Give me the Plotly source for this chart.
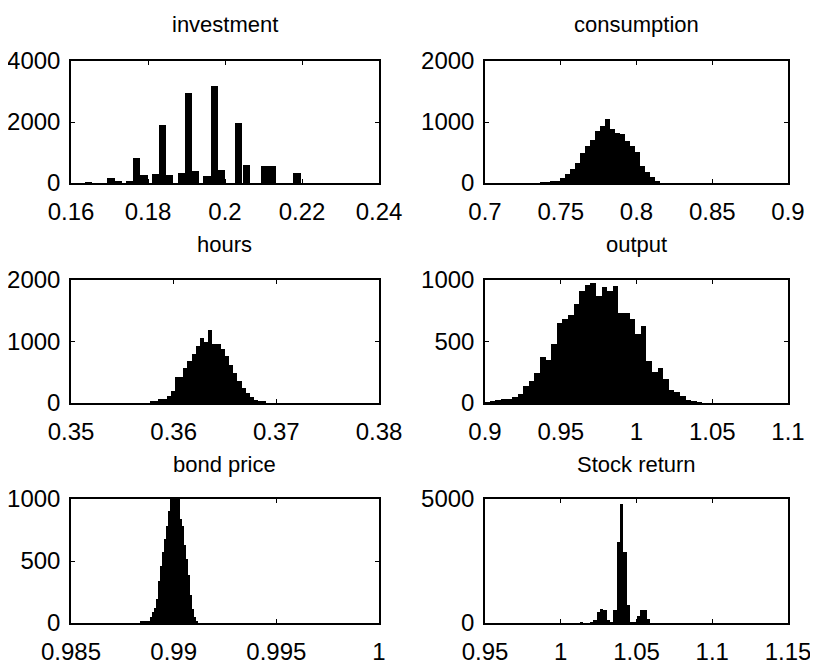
import numpy as np
import plotly.graph_objects as go

# ---------------- data ----------------
titles = ["investment", "consumption", "hours", "output", "bond price", "Stock return"]

# investment: discrete bars (centers, counts)
inv_centers = [0.1645, 0.1704, 0.1723, 0.1753, 0.1771, 0.1790, 0.1820, 0.1838, 0.1856,
               0.1887, 0.1905, 0.1924, 0.1953, 0.1972, 0.1991, 0.2035, 0.2055, 0.2104,
               0.2123, 0.2187]
inv_counts = [25, 160, 60, 80, 830, 270, 300, 1900, 250, 330, 2935, 380, 240, 3170, 435,
              1980, 576, 565, 565, 330]
inv_width = 0.0019

# consumption histogram
cons_start, cons_width = 0.7365, 0.0033
cons_counts = [16, 16, 20, 40, 80, 140, 230, 320, 500, 610, 700, 860, 940, 1050, 880, 814,
               800, 694, 612, 503, 284, 175, 93, 38]

# hours histogram
hours_start, hours_width = 0.3577, 0.000405
hours_counts = [27, 27, 65, 65, 119, 190, 423, 423, 569, 678, 800, 927, 1057, 990, 1180,
                960, 960, 878, 759, 623, 488, 352, 244, 163, 98, 54, 22, 22]

# output histogram
out_start, out_width = 0.8993, 0.003696
out_counts = [5, 14, 27, 35, 35, 49, 76, 136, 177, 240, 372, 353, 476, 652, 679, 715, 802,
              910, 956, 978, 870, 945, 910, 951, 734, 734, 685, 557, 625, 340, 250, 285,
              196, 109, 87, 60, 27, 11, 5]

# bond price histogram
bond_start, bond_width = 0.98836, 0.0000974
bond_counts = [10, 12, 13, 15, 20, 45, 85, 125, 190, 335, 460, 570, 680, 780, 900, 1020,
               1040, 1040, 1030, 1010, 840, 780, 630, 520, 390, 228, 110, 50, 20]

# stock return histogram
stock_start, stock_width = 1.01271, 0.0022
stock_counts = [30, 0, 0, 20, 108, 450, 553, 530, 108, 40, 512, 3275, 4800, 2870, 714, 40,
                40, 300, 512, 512, 175]

# axes
x_ranges = [[0.16, 0.24], [0.7, 0.9], [0.35, 0.38], [0.9, 1.1], [0.985, 1.0], [0.95, 1.15]]
x_tickvals = [[0.16, 0.18, 0.2, 0.22, 0.24],
              [0.7, 0.75, 0.8, 0.85, 0.9],
              [0.35, 0.36, 0.37, 0.38],
              [0.9, 0.95, 1.0, 1.05, 1.1],
              [0.985, 0.99, 0.995, 1.0],
              [0.95, 1.0, 1.05, 1.1, 1.15]]
x_ticktext = [["0.16", "0.18", "0.2", "0.22", "0.24"],
              ["0.7", "0.75", "0.8", "0.85", "0.9"],
              ["0.35", "0.36", "0.37", "0.38"],
              ["0.9", "0.95", "1", "1.05", "1.1"],
              ["0.985", "0.99", "0.995", "1"],
              ["0.95", "1", "1.05", "1.1", "1.15"]]
y_ranges = [[0, 4000], [0, 2000], [0, 2000], [0, 1000], [0, 1000], [0, 5000]]
y_tickvals = [[0, 2000, 4000], [0, 1000, 2000], [0, 1000, 2000],
              [0, 500, 1000], [0, 500, 1000], [0, 5000]]

# ---------------- figure ----------------
OFF = 8  # default page body margin
W, H = 818 - OFF, 671 - OFF
col_px = [(71 - OFF, 379 - OFF), (485 - OFF, 788 - OFF)]
row_px = [(61 - OFF, 183 - OFF), (280 - OFF, 403 - OFF), (499 - OFF, 623 - OFF)]
title_px = [24 - OFF, 244 - OFF, 464 - OFF]

def centers(start, width, n):
    return start + width * (np.arange(n) + 0.5)

series = [
    (inv_centers, inv_counts, inv_width),
    (centers(cons_start, cons_width, len(cons_counts)), cons_counts, cons_width),
    (centers(hours_start, hours_width, len(hours_counts)), hours_counts, hours_width),
    (centers(out_start, out_width, len(out_counts)), out_counts, out_width),
    (centers(bond_start, bond_width, len(bond_counts)), bond_counts, bond_width),
    (centers(stock_start, stock_width, len(stock_counts)), stock_counts, stock_width),
]

FONT = "Liberation Sans, Arial, sans-serif"
fig = go.Figure()
layout = dict(width=W, height=H, margin=dict(l=0, r=0, t=0, b=0, autoexpand=False),
              paper_bgcolor="white", plot_bgcolor="white", showlegend=False,
              bargap=0, font=dict(family=FONT, color="black"))
annotations = []
for i in range(6):
    r, c = divmod(i, 2)
    xs, ys, w = series[i]
    k = "" if i == 0 else str(i + 1)
    fig.add_trace(go.Bar(x=list(xs), y=ys, width=w, marker=dict(color="black", line=dict(width=0)),
                         xaxis="x" + k, yaxis="y" + k, hoverinfo="x+y"))
    x0, x1 = col_px[c]
    y0, y1 = row_px[r]
    layout["xaxis" + k] = dict(domain=[x0 / W, x1 / W], range=x_ranges[i], anchor="y" + k,
                               tickvals=x_tickvals[i], ticktext=x_ticktext[i], automargin=False,
                               ticks="inside", ticklen=4, tickwidth=1.2, tickcolor="black",
                               showline=True, linecolor="black", linewidth=1.5, mirror="ticks",
                               showgrid=False, zeroline=False, ticklabelstandoff=6,
                               tickfont=dict(size=24, family=FONT, color="black"))
    layout["yaxis" + k] = dict(domain=[1 - y1 / H, 1 - y0 / H], range=y_ranges[i], anchor="x" + k,
                               tickvals=y_tickvals[i], automargin=False,
                               ticks="inside", ticklen=4, tickwidth=1.2, tickcolor="black",
                               showline=True, linecolor="black", linewidth=1.5, mirror="ticks",
                               showgrid=False, zeroline=False, ticklabelstandoff=4,
                               tickfont=dict(size=24, family=FONT, color="black"))
    annotations.append(dict(text=titles[i], x=(x0 + x1) / 2 / W, y=1 - title_px[r] / H,
                            xref="paper", yref="paper", xanchor="center", yanchor="middle",
                            showarrow=False, font=dict(size=22, family=FONT, color="black")))
layout["annotations"] = annotations
fig.update_layout(**layout)
fig.write_html("out.html")
